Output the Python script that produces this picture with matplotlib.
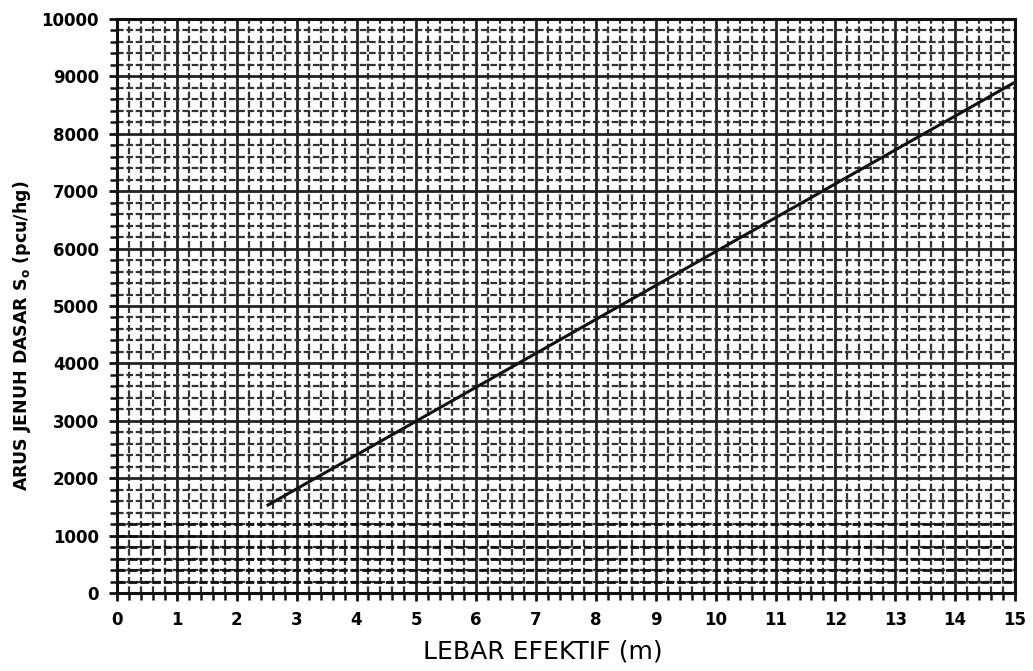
import matplotlib
matplotlib.use("Agg")
import matplotlib.pyplot as plt
from matplotlib.ticker import MultipleLocator
import numpy as np

# data
lebar = [2.5, 15.0]            # effective width (m)
arus = [1520, 8900]            # base saturation flow (pcu/hg)
x_ticks = list(range(0, 16))
y_ticks = list(range(0, 10001, 1000))

fig = plt.figure(figsize=(10.33, 6.71), dpi=100)
ax = fig.add_axes([0.1133, 0.1162, 0.8693, 0.8555])

ax.set_xlim(0, 15)
ax.set_ylim(0, 10000)
ax.set_xticks(x_ticks)
ax.set_yticks(y_ticks)
ax.xaxis.set_minor_locator(MultipleLocator(0.2))
ax.yaxis.set_minor_locator(MultipleLocator(200))

ax.grid(which="major", color="#222222", linewidth=2.0)
ax.grid(which="minor", color="#333333", linewidth=1.6, linestyle=(0, (3, 1.2)))
ax.set_axisbelow(True)

# slightly heavier print in the lowest band of the scan
for yy in np.arange(200, 1400, 200):
    ax.axhline(yy, color="#111111", linewidth=2.0, linestyle=(0, (3, 1.2)), zorder=0.6)

for s in ax.spines.values():
    s.set_linewidth(2.2)
    s.set_color("#111111")

ax.tick_params(which="major", direction="out", length=6, width=2, color="#111111",
               labelsize=12, pad=7)
ax.tick_params(which="minor", direction="out", length=5, width=1.8, color="#111111")

for lab in ax.get_xticklabels() + ax.get_yticklabels():
    lab.set_fontweight("bold")

ax.plot(lebar, arus, color="#111111", linewidth=2.2, solid_capstyle="butt", zorder=3)

fig.text(543 / 1033, 1 - 652 / 671, "LEBAR EFEKTIF (m)", fontsize=18,
         ha="center", va="center")
fig.text(22 / 1033, 1 - 336 / 671, "ARUS JENUH DASAR S$_\\mathbf{o}$ (pcu/hg)",
         fontsize=12.5, fontweight="bold", rotation=90, ha="center", va="center")

fig.savefig("out.png", dpi=100, facecolor="white")
